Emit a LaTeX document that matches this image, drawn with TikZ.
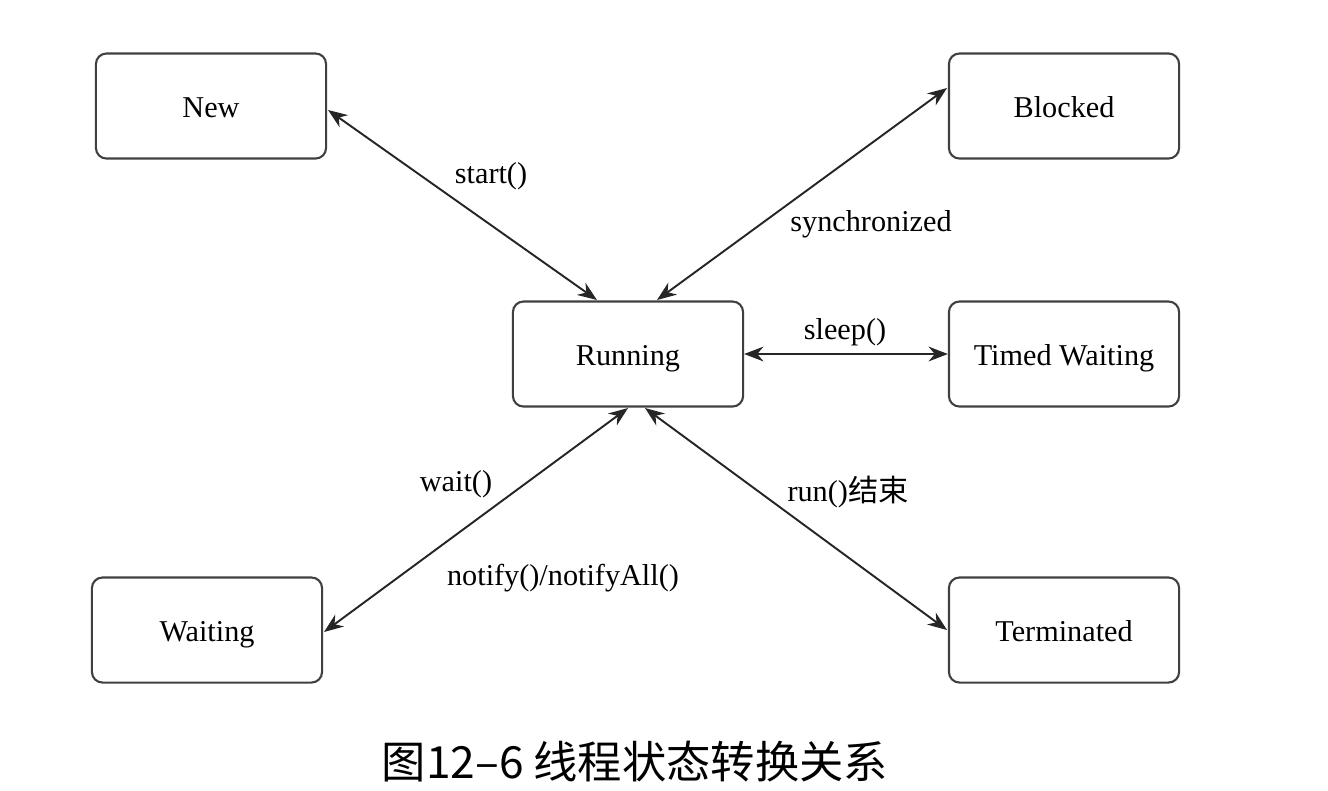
\documentclass[tikz,border=0pt]{standalone}
\usepackage{fontspec}
\setmainfont{Liberation Serif}
\newfontfamily\cjk{Noto Sans CJK SC}
\usetikzlibrary{arrows.meta}
\begin{document}
\begin{tikzpicture}[x=0.01cm,y=-0.01cm,
  state/.style={draw=black!75,line width=0.6pt,rounded corners=3pt,minimum width=2.3cm,minimum height=1.05cm,font=\fontsize{8.6}{10}\selectfont,inner sep=0pt,text height=6.8pt,text depth=0pt},
  conn/.style={draw=black!85,line width=0.55pt,{Stealth[length=5.5pt,width=4.2pt]}-{Stealth[length=5.5pt,width=4.2pt]}},
  lbl/.style={font=\fontsize{8.6}{10}\selectfont,inner sep=0pt,text height=6.8pt,text depth=0pt}]
\useasboundingbox (0,0) rectangle (1328,790);
\node[state] (new) at (211,106) {New};
\node[state] (blocked) at (1064,106) {Blocked};
\node[state] (running) at (628,354) {Running};
\node[state] (timed) at (1064,354) {Timed Waiting};
\node[state] (waiting) at (207,630) {Waiting};
\node[state] (term) at (1064,630) {Terminated};
\coordinate (nE) at (328,110);
\coordinate (rA) at (597,300);
\coordinate (bW) at (947,88);
\coordinate (rB) at (657,300);
\coordinate (rC) at (628,408);
\coordinate (wE) at (324,632);
\coordinate (rD) at (645,408);
\coordinate (tW) at (947,630);
\draw[conn] (nE) -- (rA);
\draw[conn] (bW) -- (rB);
\draw[conn] (running.east) -- (timed.west);
\draw[conn] (rC) -- (wE);
\draw[conn] (rD) -- (tW);
\node[lbl] (l1) at (491,172) {start()};
\node[lbl] (l2) at (871,220) {synchronized};
\node[lbl] (l3) at (845,328) {sleep()};
\node[lbl] (l4) at (456,480) {wait()};
\node[lbl] (l5) at (563,574) {notify()/notifyAll()};
\node[lbl] (l6) at (848,490) {run(){\cjk 结束}};
\node[inner sep=0pt,font=\cjk\fontsize{12.6}{14}\selectfont] (cap) at (635,762) {图12–6 线程状态转换关系};
\end{tikzpicture}
\end{document}
